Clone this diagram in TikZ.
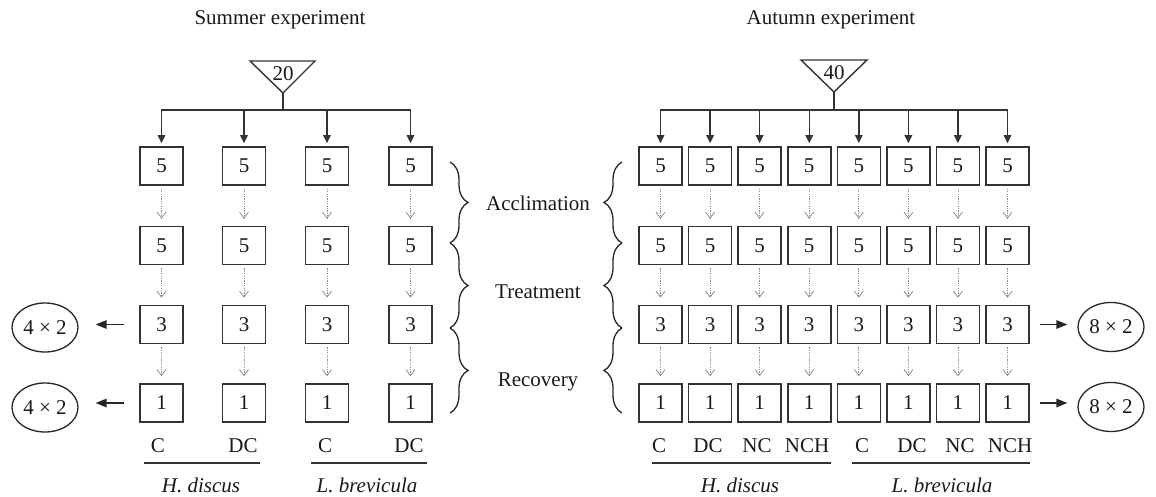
\documentclass[tikz,border=0pt]{standalone}
\usepackage{fontspec}
\setmainfont{Liberation Serif}
\usetikzlibrary{arrows.meta,decorations.pathreplacing,shapes.geometric}
\begin{document}
\begin{tikzpicture}[x=1pt,y=-1pt,
  every node/.style={font=\fontsize{21}{25}\selectfont, text=black!90},
  cell/.style={draw=black!80, line width=1.6pt, minimum width=43pt, minimum height=38pt, inner sep=0pt},
  pool/.style={draw=black!85, line width=1.3pt, ellipse, minimum width=66pt, minimum height=49pt, inner sep=0pt},
  feed/.style={line width=1.4pt, draw=black!80, -{Triangle[length=8pt,width=7.5pt]}, shorten >=3pt},
  outarr/.style={line width=1.5pt, draw=black!85, -{Triangle[length=11pt,width=8.5pt]}},
  flow/.style={draw=black!45, line width=0.8pt, dash pattern=on 1.2pt off 1.2pt, -{Straight Barb[length=6pt,width=9pt,line width=0.8pt]}, shorten <=3pt, shorten >=7pt},
  phase/.style={draw=black!85, line width=1.3pt, decorate, decoration={brace, amplitude=18pt}},
  grpline/.style={draw=black!80, line width=1.4pt},
  ]
\useasboundingbox (0,0) rectangle (1156,497);

% titles
\node[anchor=base] (t-s) at (280,25) {Summer experiment};
\node[anchor=base] (t-a) at (831,25) {Autumn experiment};

% ---------- summer ----------
\foreach \c/\x in {1/161.5,2/244,3/327,4/410.5}{
  \foreach \r/\y/\v in {1/166/5,2/245.5/5,3/324.5/3,4/403/1}{
    \node[cell] (s-\c-\r) at (\x,\y) {\v};
  }
}
\foreach \c in {1,...,4}{
  \foreach \r/\n in {1/2,2/3,3/4}{
    \draw[flow] (s-\c-\r.south) -- (s-\c-\n.north);
  }
}
\draw[grpline] (250,61) -- (315,61) -- (283,93) -- cycle;
\node (s-src) at (283,74) {20};
\coordinate (s-apex) at (283,93);
\coordinate (s-hub) at (283,110);
\draw[grpline] (s-apex) -- (s-hub);
\foreach \c in {1,...,4}{
  \draw[feed] (s-hub) -| (s-\c-1.north);
}
\node[pool] (s-o3) at (45,327.5) {4 × 2};
\node[pool] (s-o4) at (45,407.5) {4 × 2};
\draw[outarr, shorten <=15pt, shorten >=17pt] (s-1-3.west) -- (s-1-3.west -| s-o3.east);
\draw[outarr, shorten <=15pt, shorten >=17pt] (s-1-4.west) -- (s-1-4.west -| s-o4.east);

\node[anchor=base] (s-l1) at (158,452) {C};
\node[anchor=base] (s-l2) at (243,452) {DC};
\node[anchor=base] (s-l3) at (325,452) {C};
\node[anchor=base] (s-l4) at (409,452) {DC};
\draw[grpline] (144,463) -- (260,463);
\draw[grpline] (311,463) -- (427,463);
\node[anchor=base] (s-sp1) at (201,492) {\itshape H. discus};
\node[anchor=base] (s-sp2) at (367,492) {\itshape L. brevicula};

% ---------- phases ----------
\draw[phase] (450,162) -- (450,243);
\draw[phase] (450,243) -- (450,328);
\draw[phase] (450,328) -- (450,413);
\draw[phase] (622,243) -- (622,162);
\draw[phase] (622,328) -- (622,243);
\draw[phase] (622,413) -- (622,328);
\node[anchor=base] (p-acc) at (538,211) {Acclimation};
\node[anchor=base] (p-trt) at (538,298.5) {Treatment};
\node[anchor=base] (p-rec) at (538,386) {Recovery};

% ---------- autumn ----------
\foreach \c/\x in {1/660.5,2/710.1,3/759.6,4/809.2,5/858.8,6/908.4,7/957.9,8/1007.5}{
  \foreach \r/\y/\v in {1/166/5,2/245.5/5,3/324.5/3,4/403/1}{
    \node[cell] (a-\c-\r) at (\x,\y) {\v};
  }
}
\foreach \c in {1,...,8}{
  \foreach \r/\n in {1/2,2/3,3/4}{
    \draw[flow] (a-\c-\r.south) -- (a-\c-\n.north);
  }
}
\draw[grpline] (801,60) -- (867,60) -- (834,92) -- cycle;
\node (a-src) at (834,73) {40};
\coordinate (a-apex) at (834,92);
\coordinate (a-hub) at (834,110);
\draw[grpline] (a-apex) -- (a-hub);
\foreach \c in {1,...,8}{
  \draw[feed] (a-hub) -| (a-\c-1.north);
}
\node[pool] (a-o3) at (1111,327) {8 × 2};
\node[pool] (a-o4) at (1111,407) {8 × 2};
\draw[outarr, shorten <=10pt, shorten >=10pt] (a-8-3.east) -- (a-8-3.east -| a-o3.west);
\draw[outarr, shorten <=10pt, shorten >=10pt] (a-8-4.east) -- (a-8-4.east -| a-o4.west);

\node[anchor=base] (a-l1) at (659,452) {C};
\node[anchor=base] (a-l2) at (708,452) {DC};
\node[anchor=base] (a-l3) at (757,452) {NC};
\node[anchor=base] (a-l4) at (807,452) {NCH};
\node[anchor=base] (a-l5) at (862,452) {C};
\node[anchor=base] (a-l6) at (912,452) {DC};
\node[anchor=base] (a-l7) at (960,452) {NC};
\node[anchor=base] (a-l8) at (1010,452) {NCH};
\draw[grpline] (652,463) -- (831,463);
\draw[grpline] (852,463) -- (1030,463);
\node[anchor=base] (a-sp1) at (740,492) {\itshape H. discus};
\node[anchor=base] (a-sp2) at (942,492) {\itshape L. brevicula};
\end{tikzpicture}
\end{document}
